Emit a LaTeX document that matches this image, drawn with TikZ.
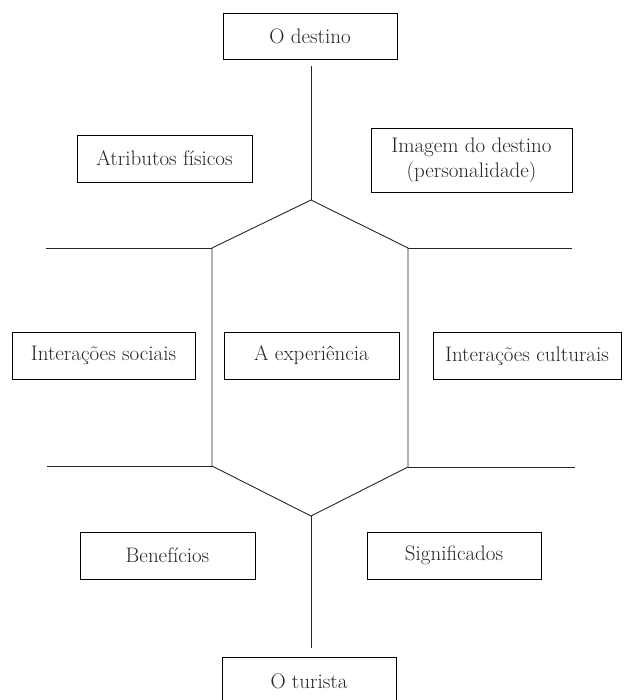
\documentclass[tikz,border=0pt]{standalone}
\usepackage{fontspec}
\setmainfont{Latin Modern Roman}
\begin{document}
\begin{tikzpicture}[x=1pt,y=-1pt,
  box/.style={draw, line width=0.9pt, rectangle, inner sep=0pt, align=center,
    font=\fontsize{21}{25}\selectfont, text=black!85},
  ln/.style={line width=0.9pt, draw=black!85}]
\useasboundingbox (0,0) rectangle (625,700);
\clip (0,0) rectangle (625,700);
% boxes
\node[box, minimum width=174pt, minimum height=46pt] (dest) at (310,36) {O destino};
\node[box, minimum width=175pt, minimum height=47pt] (attr) at (164.5,158.5) {Atributos físicos};
\node[box, minimum width=201pt, minimum height=64pt] (img) at (471.5,160) {Imagem do destino\\(personalidade)};
\node[box, minimum width=183pt, minimum height=47pt] (soc) at (103.5,355.5) {Interações sociais};
\node[box, minimum width=175pt, minimum height=47pt] (exp) at (311.5,355.5) {A experiência};
\node[box, minimum width=188pt, minimum height=47pt] (cult) at (527,356) {Interações culturais};
\node[box, minimum width=175pt, minimum height=47pt] (ben) at (167.5,555.5) {Benefícios};
\node[box, minimum width=174pt, minimum height=47pt] (sig) at (454,555.5) {Significados};
\node[box, minimum width=174pt, minimum height=48pt] (tur) at (309,681) {O turista};
% hexagon corners
\coordinate (top) at (311,200);
\coordinate (ul) at (212,248);
\coordinate (ll) at (212,466);
\coordinate (bot) at (311,516);
\coordinate (lr) at (408,467);
\coordinate (ur) at (408,248);
\coordinate (st1) at (311,66);
\coordinate (st2) at (311,648);
\coordinate (l1) at (46,248);
\coordinate (l2) at (47,466);
\coordinate (r1) at (572,248);
\coordinate (r2) at (575,467);
\draw[ln] (st1) -- (top);
\draw[ln] (top) -- (ul) -- (ll) -- (bot) -- (lr) -- (ur) -- cycle;
\draw[ln] (bot) -- (st2);
\draw[ln] (l1) -- (ul);
\draw[ln] (l2) -- (ll);
\draw[ln] (ur) -- (r1);
\draw[ln] (lr) -- (r2);
\end{tikzpicture}
\end{document}
